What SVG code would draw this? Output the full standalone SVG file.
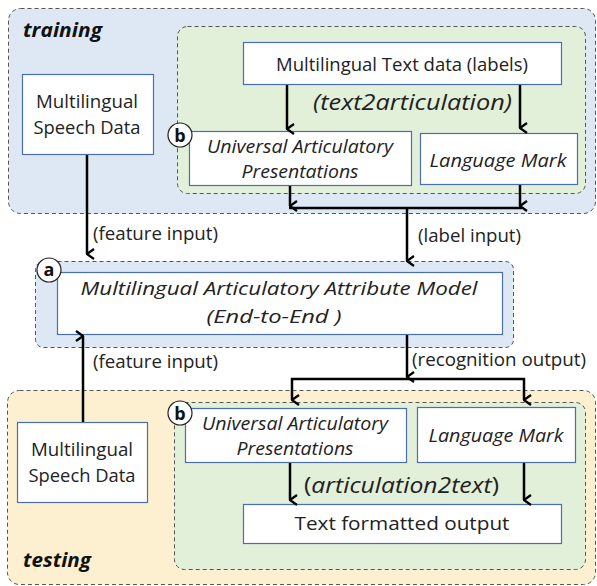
<svg xmlns="http://www.w3.org/2000/svg" width="597" height="586" viewBox="0 0 597 586">
<defs>
<marker id="ah" viewBox="0 0 12 12" markerWidth="12" markerHeight="12" refX="6" refY="11" orient="auto-start-reverse" markerUnits="userSpaceOnUse">
<path d="M1,4 L6,11 L11,4" fill="none" stroke="#000" stroke-width="2.2"/>
</marker>
</defs>
<style>
.grp{stroke:#555;stroke-width:1;stroke-dasharray:4,3}
.blue{fill:#dde8f4}
.yel{fill:#fdf0d0}
.grn{fill:#e2efd9}
.box{fill:#fff;stroke:#4a6fb0;stroke-width:1.2}
.t{font-family:"Open Sans","Noto Sans",sans-serif;font-size:18px;fill:#222;text-anchor:middle}
.i{font-style:italic}
.big{font-size:21px}
.mid{font-size:19px}
.lbl{font-family:"Open Sans","Noto Sans",sans-serif;font-size:18px;fill:#222}
.ttl{font-family:"Open Sans","Noto Sans",sans-serif;font-size:20px;font-weight:bold;font-style:italic;fill:#111}
.c{fill:#fff;stroke:#222;stroke-width:1.2}
.ct{font-family:"Open Sans","Noto Sans",sans-serif;font-size:18px;font-weight:bold;fill:#111;text-anchor:middle}
.ln{fill:none;stroke:#000;stroke-width:2.5}
.ar{fill:none;stroke:#000;stroke-width:2.5;marker-end:url(#ah)}
</style>

<g id="training">
<rect class="grp blue" x="8.5" y="8.5" width="587" height="205" rx="12"/>
<text class="ttl" x="23" y="37" textLength="79" lengthAdjust="spacingAndGlyphs">training</text>
</g>
<g id="training-b">
<rect class="grp grn" x="177.5" y="26.5" width="408" height="167" rx="10"/>
</g>
<g id="testing">
<rect class="grp yel" x="7.5" y="390.5" width="588" height="194" rx="12"/>
<text class="ttl" x="23" y="567" textLength="68" lengthAdjust="spacingAndGlyphs">testing</text>
</g>
<g id="testing-b">
<rect class="grp grn" x="174.5" y="402.5" width="411" height="167" rx="10"/>
</g>
<g id="model-group">
<rect class="grp blue" x="35.5" y="261.5" width="478" height="86" rx="8"/>
</g>

<g id="speech-train">
<rect class="box" x="22.5" y="74.5" width="131" height="80"/>
<text class="t" x="87" y="108" textLength="102" lengthAdjust="spacingAndGlyphs">Multilingual</text>
<text class="t" x="87" y="134" textLength="107" lengthAdjust="spacingAndGlyphs">Speech Data</text>
</g>
<g id="text-data">
<rect class="box" x="243.5" y="42.5" width="318" height="42"/>
<text class="t" x="402" y="71" textLength="252" lengthAdjust="spacingAndGlyphs">Multilingual Text data (labels)</text>
</g>
<g id="uap-train">
<rect class="box" x="189.5" y="131.5" width="222" height="54"/>
<text class="t i" x="300" y="153" textLength="186" lengthAdjust="spacingAndGlyphs">Universal Articulatory</text>
<text class="t i" x="300" y="178" textLength="117" lengthAdjust="spacingAndGlyphs">Presentations</text>
</g>
<g id="lm-train">
<rect class="box" x="420.5" y="133.5" width="157" height="51"/>
<text class="t i" x="498" y="167" textLength="137" lengthAdjust="spacingAndGlyphs">Language Mark</text>
</g>
<g id="badge-b1">
<circle class="c" cx="180" cy="135" r="12"/>
<text class="ct" x="180" y="141.5">b</text>
</g>
<g id="model">
<rect class="box" x="57.5" y="272.5" width="445" height="62"/>
<text class="t i mid" x="279" y="295" textLength="397" lengthAdjust="spacingAndGlyphs">Multilingual Articulatory Attribute Model</text>
<text class="t i mid" x="274" y="323" textLength="135" lengthAdjust="spacingAndGlyphs">(End-to-End )</text>
</g>
<g id="badge-a">
<circle class="c" cx="49" cy="270" r="12"/>
<text class="ct" x="49" y="276">a</text>
</g>
<g id="speech-test">
<rect class="box" x="17.5" y="422.5" width="130" height="80"/>
<text class="t" x="82" y="456" textLength="102" lengthAdjust="spacingAndGlyphs">Multilingual</text>
<text class="t" x="82" y="482" textLength="107" lengthAdjust="spacingAndGlyphs">Speech Data</text>
</g>
<g id="uap-test">
<rect class="box" x="185.5" y="408.5" width="221" height="54"/>
<text class="t i" x="295" y="430" textLength="186" lengthAdjust="spacingAndGlyphs">Universal Articulatory</text>
<text class="t i" x="295" y="455" textLength="117" lengthAdjust="spacingAndGlyphs">Presentations</text>
</g>
<g id="lm-test">
<rect class="box" x="417.5" y="407.5" width="158" height="55"/>
<text class="t i" x="496" y="442" textLength="135" lengthAdjust="spacingAndGlyphs">Language Mark</text>
</g>
<g id="badge-b2">
<circle class="c" cx="180" cy="413" r="12"/>
<text class="ct" x="180" y="419.5">b</text>
</g>
<g id="text-out">
<rect class="box" x="243.5" y="504.5" width="318" height="39"/>
<text class="t" x="402" y="530" textLength="215" lengthAdjust="spacingAndGlyphs">Text formatted output</text>
</g>

<g id="connectors">
<path class="ar" d="M287,85 V129"/>
<path class="ar" d="M520,85 V128"/>
<path class="ar" d="M290,186 V206"/>
<path class="ar" d="M520,185 V206"/>
<path class="ln" d="M289,208 H522"/>
<path class="ar" d="M407,208 V261"/>
<path class="ar" d="M87,155 V254"/>
<path class="ar" d="M83,422 V336"/>
<path class="ar" d="M407,335 V377"/>
<path class="ln" d="M291,379 H525"/>
<path class="ar" d="M292,378 V400"/>
<path class="ar" d="M524,378 V400"/>
<path class="ar" d="M290,463 V500"/>
<path class="ar" d="M524,463 V500"/>
</g>
<g id="labels">
<text class="t i big" x="412.5" y="110" textLength="199" lengthAdjust="spacingAndGlyphs">(text2articulation)</text>
<text class="lbl" x="93" y="240" textLength="125" lengthAdjust="spacingAndGlyphs">(feature input)</text>
<text class="lbl" x="418" y="242" textLength="103" lengthAdjust="spacingAndGlyphs">(label input)</text>
<text class="lbl" x="93" y="368" textLength="125" lengthAdjust="spacingAndGlyphs">(feature input)</text>
<text class="lbl" x="412" y="366" textLength="174" lengthAdjust="spacingAndGlyphs">(recognition output)</text>
<text class="t big" x="401.5" y="493" textLength="195" lengthAdjust="spacingAndGlyphs">(<tspan class="i">articulation2text</tspan>)</text>
</g>
</svg>
